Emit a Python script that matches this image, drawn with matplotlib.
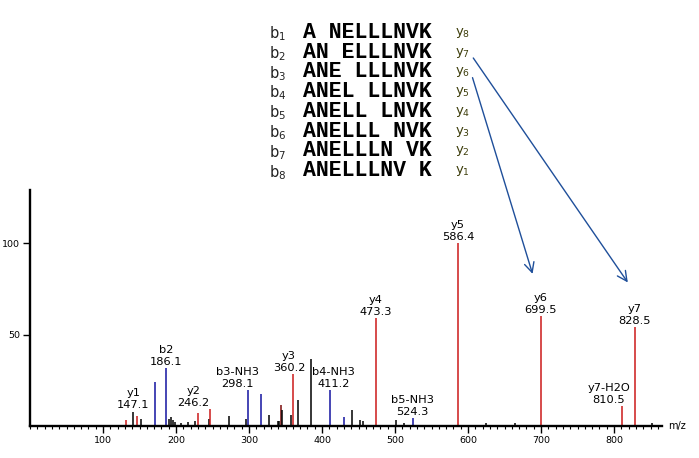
import matplotlib.pyplot as plt
from matplotlib.ticker import MultipleLocator

# peaks: m/z, relative intensity, ion type
mz = [131.0, 141.6, 147.1, 152.6, 171.0, 186.1, 191.0, 193.0, 195.6, 198.0,
      207.0, 216.0, 226.0, 229.5, 244.6, 246.2, 272.0, 295.5, 298.1, 316.0,
      328.0, 340.0, 341.5, 343.9, 345.5, 358.0, 360.2, 366.7, 384.5, 411.2,
      429.5, 441.0, 452.0, 455.5, 473.3, 500.8, 512.0, 524.3, 586.4, 624.0,
      664.0, 699.5, 810.5, 828.5, 852.0]
intensity = [3.3, 7.5, 5.5, 3.8, 24.0, 31.6, 4.0, 5.0, 3.3, 2.0,
             1.5, 2.0, 3.0, 7.2, 4.0, 9.3, 5.5, 3.7, 19.8, 17.6,
             6.0, 2.5, 3.0, 11.5, 9.0, 6.0, 28.5, 14.3, 36.8, 19.8,
             5.0, 8.6, 3.3, 2.7, 59.3, 3.5, 1.5, 4.3, 100.0, 1.5,
             1.5, 60.2, 11.1, 54.0, 1.5]
ion = ['y', 'o', 'y', 'o', 'b', 'b', 'o', 'o', 'o', 'o',
       'o', 'o', 'o', 'y', 'o', 'y', 'o', 'o', 'b', 'b',
       'o', 'o', 'o', 'm', 'o', 'o', 'y', 'o', 'o', 'b',
       'b', 'o', 'o', 'o', 'y', 'o', 'o', 'b', 'y', 'o',
       'o', 'y', 'y', 'y', 'o']

# annotated peaks
ann_mz = [147.1, 186.1, 246.2, 298.1, 360.2, 411.2, 473.3, 524.3, 586.4, 699.5, 810.5, 828.5]
ann_name = ['y1', 'b2', 'y2', 'b3-NH3', 'y3', 'b4-NH3', 'y4', 'b5-NH3', 'y5', 'y6', 'y7-H2O', 'y7']
# label shift in pixels (dx, dy) to avoid overlaps
ann_shift = [(-4, 5), (0, 0), (-16, 0), (-10, 0), (-4, 0), (3, 0), (0, 0), (0, 0),
             (0, 0), (0, 0), (-13, 0), (0, 0)]

# fragment table
b_names = ['1', '2', '3', '4', '5', '6', '7', '8']
y_names = ['8', '7', '6', '5', '4', '3', '2', '1']
fragments = ['A NELLLNVK', 'AN ELLLNVK', 'ANE LLLNVK', 'ANEL LLNVK',
             'ANELL LNVK', 'ANELLL NVK', 'ANELLLN VK', 'ANELLLNV K']

colors = {'y': '#cc1a1a', 'b': '#1414a0', 'o': 'black', 'm': '#7a0a0a'}

W, H = 699, 458
fig = plt.figure(figsize=(W / 100, H / 100), dpi=100)
ax = fig.add_axes([30 / W, 32 / H, 631.5 / W, 236 / H])

ax.vlines(mz, 0, intensity, colors=[colors[c] for c in ion], linewidth=1.1)

ax.set_xlim(0, 865)
ax.set_ylim(0, 129)
for s in ['top', 'right']:
    ax.spines[s].set_visible(False)
for s in ['left', 'bottom']:
    ax.spines[s].set_linewidth(1.7)
ax.xaxis.set_major_locator(MultipleLocator(100))
ax.xaxis.set_minor_locator(MultipleLocator(10))
ax.set_xticks([100, 200, 300, 400, 500, 600, 700, 800])
ax.set_yticks([50, 100])
ax.tick_params(axis='both', which='major', labelsize=6.8, length=5, width=1, pad=2)
ax.tick_params(axis='x', which='minor', length=2.5, width=0.8)
ax.text(1.01, 0, 'm/z', transform=ax.transAxes, fontsize=7, va='center', ha='left')

# peak labels
lookup = dict(zip(mz, intensity))
for m, name, (dx, dy) in zip(ann_mz, ann_name, ann_shift):
    ax.annotate(f'{name}\n{m:.1f}', xy=(m, lookup[m]), xytext=(dx, dy + 1),
                textcoords='offset pixels', ha='center', va='bottom',
                fontsize=8.2, linespacing=1.25)

# fragment table at top
def fy(px):
    return 1 - px / H

for i in range(8):
    base = 37.7 + 19.8 * i
    fig.text(269 / W, fy(base + 0.5), f'b$_{b_names[i]}$', fontsize=10.5, color='#222222')
    fig.text(303 / W, fy(base), fragments[i], fontsize=15.5, family='Liberation Mono',
             weight='bold', color='black')
    fig.text(455 / W, fy(base - 3), f'y$_{y_names[i]}$', fontsize=9.5, color='#3d3d0a')

# arrows from y7 / y6 to their peaks
arrow_kw = dict(arrowstyle='->,head_length=0.7,head_width=0.35', color='#1f4f9a', lw=1)
ax.annotate('', xy=(821, 77.2), xycoords='data',
            xytext=(471.7 / W, fy(55.7)), textcoords='figure fraction', arrowprops=arrow_kw)
ax.annotate('', xy=(689.5, 81.7), xycoords='data',
            xytext=(471.7 / W, fy(75)), textcoords='figure fraction', arrowprops=arrow_kw)

fig.savefig('out.png', dpi=100)
